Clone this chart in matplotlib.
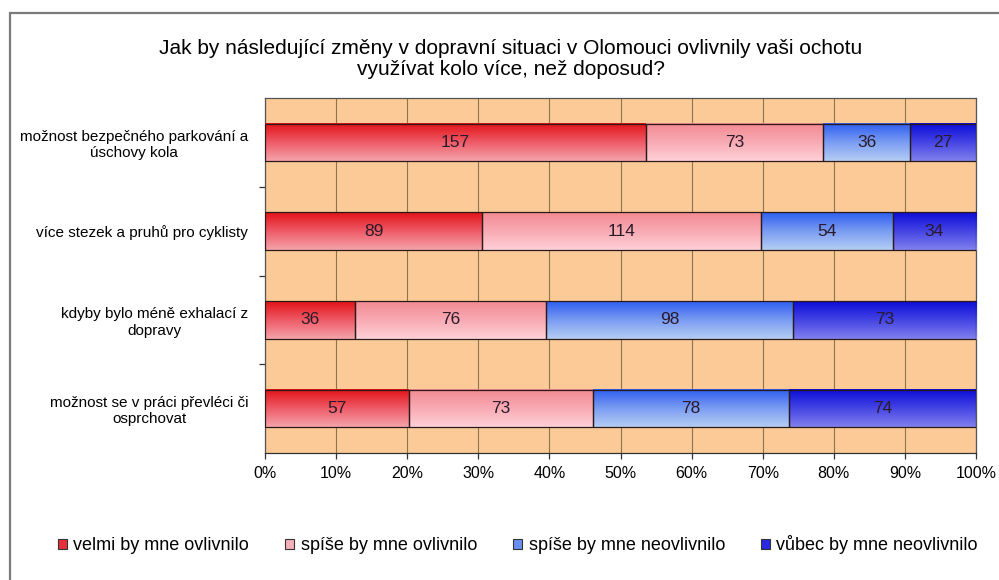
import numpy as np
import matplotlib.pyplot as plt
from matplotlib.patches import Rectangle, Patch
from matplotlib.colors import LinearSegmentedColormap

plt.rcParams['font.family'] = ['Liberation Sans', 'DejaVu Sans']

title = ('Jak by následující změny v dopravní situaci v Olomouci ovlivnily vaši ochotu\n'
         'využívat kolo více, než doposud?')
categories = ['možnost bezpečného parkování a\núschovy kola',
              'více stezek a pruhů pro cyklisty',
              'kdyby bylo méně exhalací z\ndopravy',
              'možnost se v práci převléci či\nosprchovat']
series = ['velmi by mne ovlivnilo', 'spíše by mne ovlivnilo',
          'spíše by mne neovlivnilo', 'vůbec by mne neovlivnilo']
velmi = [157, 89, 36, 57]
spise = [73, 114, 76, 73]
spise_ne = [36, 54, 98, 78]
vubec_ne = [27, 34, 73, 74]
xticks = [0, 10, 20, 30, 40, 50, 60, 70, 80, 90, 100]

# top -> bottom gradient colours for each series
grads = [['#e31218', '#ee5a66', '#f4a3aa'],
         ['#f38a92', '#f8aab3', '#ffd0d8'],
         ['#2e5ef0', '#7a9cf2', '#b4cdf4'],
         ['#0c0cd8', '#4444e4', '#8080ee']]
legend_cols = ['#e8303a', '#f8b0b8', '#6a8ef0', '#2a2ae0']

counts = np.array([velmi, spise, spise_ne, vubec_ne], dtype=float)
shares = counts / counts.sum(axis=0)

fig = plt.figure(figsize=(9.99, 5.8), dpi=100)
fig.patches.append(Rectangle((10 / 999, -0.1), 1.2, 1.1 - 13 / 580,
                             transform=fig.transFigure, fill=False,
                             edgecolor='#7a7a7a', lw=1.6, zorder=0))

ax = fig.add_axes([265 / 999, 1 - 453 / 580, (976 - 265) / 999, (453 - 98) / 580])
ax.set_facecolor('#fbca96')

y = np.arange(len(categories))
bar_h = 0.42
left = np.zeros(len(categories))
for i in range(len(series)):
    bars = ax.barh(y, shares[i], height=bar_h, left=left, facecolor='none',
                   edgecolor='#2a1a1a', lw=0.9, zorder=4)
    cmap = LinearSegmentedColormap.from_list('g%d' % i, grads[i])
    grad = np.linspace(0, 1, 64).reshape(-1, 1)
    for b, n in zip(bars, counts[i]):
        x0, y0 = b.get_x(), b.get_y()
        w, h = b.get_width(), b.get_height()
        ax.imshow(grad, cmap=cmap, aspect='auto', origin='upper',
                  extent=[x0, x0 + w, y0 + h, y0], zorder=3)
        ax.text(x0 + w / 2, y0 + h / 2, '%d' % n, ha='center', va='center',
                fontsize=12.5, color='#2a1a2a', zorder=5)
    left += shares[i]

ax.set_xlim(0, 1)
ax.set_ylim(len(categories) - 0.5, -0.5)

ax.set_xticks(np.array(xticks) / 100)
ax.set_xticklabels(['%d%%' % t for t in xticks], fontsize=11.5)
ax.tick_params(axis='x', length=4, width=0.9, color='#333333', pad=5)
ax.xaxis.grid(True, color='#8c7650', lw=0.8)
ax.set_axisbelow(True)

ax.set_yticks(y)
ax.set_yticklabels(categories, fontsize=11, multialignment='center')
ax.tick_params(axis='y', length=0, pad=12)
ax.set_yticks(np.arange(0.5, len(categories) - 0.5), minor=True)
ax.tick_params(axis='y', which='minor', length=4, width=0.9, color='#333333')

for s in ax.spines.values():
    s.set_color('#555555')
    s.set_linewidth(0.9)
ax.spines['bottom'].set_color('#333333')

fig.text(511 / 999, 1 - 59 / 580, title, ha='center', va='center',
         fontsize=15, linespacing=1.1)

handles = [Patch(facecolor=c, edgecolor='#333333', lw=0.8) for c in legend_cols]
fig.legend(handles, series, loc='center', bbox_to_anchor=(518 / 999, 1 - 545 / 580),
           ncol=4, frameon=False, fontsize=13, handlelength=0.5, handleheight=0.5,
           handletextpad=0.35, columnspacing=2.0)

fig.savefig('out.png', dpi=100)
